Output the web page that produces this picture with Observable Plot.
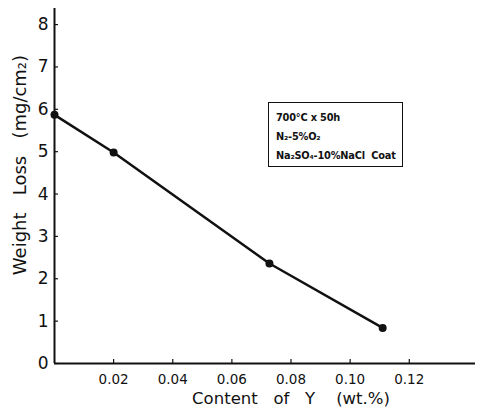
<!DOCTYPE html>
<html>
<head>
<meta charset="utf-8">
<script src="https://cdn.jsdelivr.net/npm/d3@7"></script>
<script src="https://cdn.jsdelivr.net/npm/@observablehq/plot@0.6"></script>
<style>
  html, body { margin: 0; padding: 0; background: white; }
  #wrap { position: relative; width: 479px; height: 412px; }
  #wrap svg text { white-space: pre; }
  #note {
    position: absolute; left: 268px; top: 102px; width: 135px; height: 65px;
    border: 1.5px solid #111; box-sizing: border-box; background: white;
    font-family: "DejaVu Sans", sans-serif; font-size: 9.8px; font-weight: bold;
    color: #111; padding: 5px 0 0 7px; line-height: 19px; letter-spacing: -0.2px;
  }
</style>
</head>
<body>
<div id="wrap"></div>
<script>
// Data
const contentY = [0, 0.02, 0.0727, 0.111];
const weightLoss = [5.87, 4.98, 2.36, 0.84];
const xTicks = [0.02, 0.04, 0.06, 0.08, 0.10, 0.12];
const xTickLabels = ["0.02", "0.04", "0.06", "0.08", "0.10", "0.12"];
const yTicks = [0, 1, 2, 3, 4, 5, 6, 7, 8];
const yLabel = "Weight   Loss   (mg/cm\u2082)";
const xLabel = "Content   of   Y    (wt.%)";
const noteLines = ["700\u00B0C x 50h", "N\u2082-5%O\u2082", "Na\u2082SO\u2084-10%NaCl\u00A0 Coat"];

const data = contentY.map((x, i) => ({x, y: weightLoss[i]}));

const chart = Plot.plot({
  width: 479,
  height: 412,
  marginLeft: 54,
  marginRight: 4,
  marginTop: 8,
  marginBottom: 49,
  x: {domain: [0, 0.1424]},
  y: {domain: [0, 8.38]},
  style: {fontFamily: "DejaVu Sans, sans-serif", background: "white", color: "#111"},
  marks: [
    Plot.axisX({ticks: xTicks, tickFormat: (d, i) => xTickLabels[i], tickSize: -4, tickPadding: 15,
      fontSize: 13.5, label: null, strokeWidth: 1.2}),
    Plot.axisY({ticks: yTicks, tickFormat: d => String(d), tickSize: -4, tickPadding: 10,
      fontSize: 17, label: null, strokeWidth: 1.2}),
    Plot.ruleX([0], {strokeWidth: 2}),
    Plot.ruleY([0], {strokeWidth: 2}),
    Plot.line(data, {x: "x", y: "y", stroke: "#111", strokeWidth: 2.5}),
    Plot.dot(data, {x: "x", y: "y", r: 4, fill: "#111", stroke: "none"}),
    Plot.text([yLabel], {frameAnchor: "left", textAnchor: "middle", rotate: -90, dx: -34, dy: -21,
      fontSize: 18, fill: "#111"}),
    Plot.text([xLabel], {frameAnchor: "bottom", textAnchor: "middle", dx: 26, dy: 40, fontSize: 16.5, fill: "#111"})
  ]
});

const wrap = document.getElementById("wrap");
wrap.appendChild(chart);
const note = document.createElement("div");
note.id = "note";
note.innerHTML = noteLines.map(s => `<div>${s}</div>`).join("");
wrap.appendChild(note);
</script>
</body>
</html>
